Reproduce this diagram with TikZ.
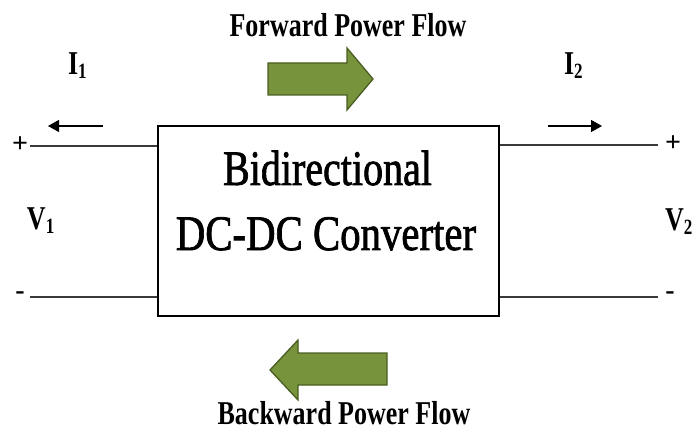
\documentclass[tikz,border=0pt]{standalone}
\usepackage{fontspec}
\setmainfont{Liberation Serif}
\newfontfamily\heavyrm[FakeBold=1.6]{Liberation Serif}
\usetikzlibrary{arrows.meta}
\definecolor{flowgreen}{HTML}{77933C}
\definecolor{flowedge}{HTML}{4A5E23}
\definecolor{wiregray}{HTML}{3A3A3A}
% tall, narrow lettering
\newcommand\tallbf[1]{\scalebox{1}[1.28]{\fontsize{26}{26}\selectfont\bfseries #1}}
\newcommand\tallrm[2]{\scalebox{#1}[1.24]{\fontsize{40}{40}\heavyrm #2}}
\newcommand\subidx[1]{\raisebox{-3pt}{\fontsize{17}{17}\selectfont #1}}
\begin{document}
\begin{tikzpicture}[x=1pt,y=-1pt,
  txt/.style={inner sep=0pt,outer sep=0pt,anchor=base},
  lbl/.style={inner sep=0pt,outer sep=0pt,anchor=base west},
  wire/.style={draw=wiregray,line width=1.7pt},
  current/.style={draw=black,line width=1.3pt,-{Triangle[length=11pt,width=12pt]}},
  flow/.style={fill=flowgreen,draw=flowedge,line width=1.3pt,line join=miter},
  sign/.style={inner sep=0pt,outer sep=0pt,font=\fontsize{28}{28}\selectfont\bfseries}]
\useasboundingbox (0,0) rectangle (693,430);

% converter block
\node[draw=black,line width=1.4pt,minimum width=341pt,minimum height=190pt,inner sep=0pt]
  (conv) at (328.5,221) {};
\node[txt] (title1) at (327.5,185) {\tallrm{1}{Bidirectional}};
\node[txt] (title2) at (326,250) {\tallrm{1.02}{DC-DC Converter}};

% port terminals
\coordinate (p1) at (30,146);
\coordinate (n1) at (30,297);
\coordinate (p2) at (658,145);
\coordinate (n2) at (658,297);
\draw[wire] (conv.west |- p1) -- (p1);
\draw[wire] (conv.west |- n1) -- (n1);
\draw[wire] (conv.east |- p2) -- (p2);
\draw[wire] (conv.east |- n2) -- (n2);

\node[sign] (plus1) at (20,145) {+};
\node[sign] (minus1) at (20,296) {-};
\node[sign] (plus2) at (673,144) {+};
\node[sign] (minus2) at (670,296) {-};

% port voltages and currents
\node[lbl] (v1) at (27,230) {\tallbf{V\subidx{1}}};
\node[lbl] (v2) at (665,231) {\tallbf{V\subidx{2}}};
\node[lbl] (i1) at (68,75) {\tallbf{I\subidx{1}}};
\node[lbl] (i2) at (564,75) {\tallbf{I\subidx{2}}};

\coordinate (i1s) at (103,126);
\coordinate (i1e) at (48,126);
\coordinate (i2s) at (548,126);
\coordinate (i2e) at (602,126);
\draw[current] (i1s) -- (i1e);
\draw[current] (i2s) -- (i2e);

% power flow directions
\node[txt] (fwd) at (348,37) {\tallbf{Forward Power Flow}};
\draw[flow] (268,63) -- (347,63) -- (347,48) -- (373,79) -- (347,110) -- (347,95) -- (268,95) -- cycle;
\draw[flow] (387,353) -- (298,353) -- (298,340) -- (270,370) -- (298,400) -- (298,385) -- (387,385) -- cycle;
\node[txt] (bwd) at (344,424) {\tallbf{Backward Power Flow}};
\end{tikzpicture}
\end{document}
